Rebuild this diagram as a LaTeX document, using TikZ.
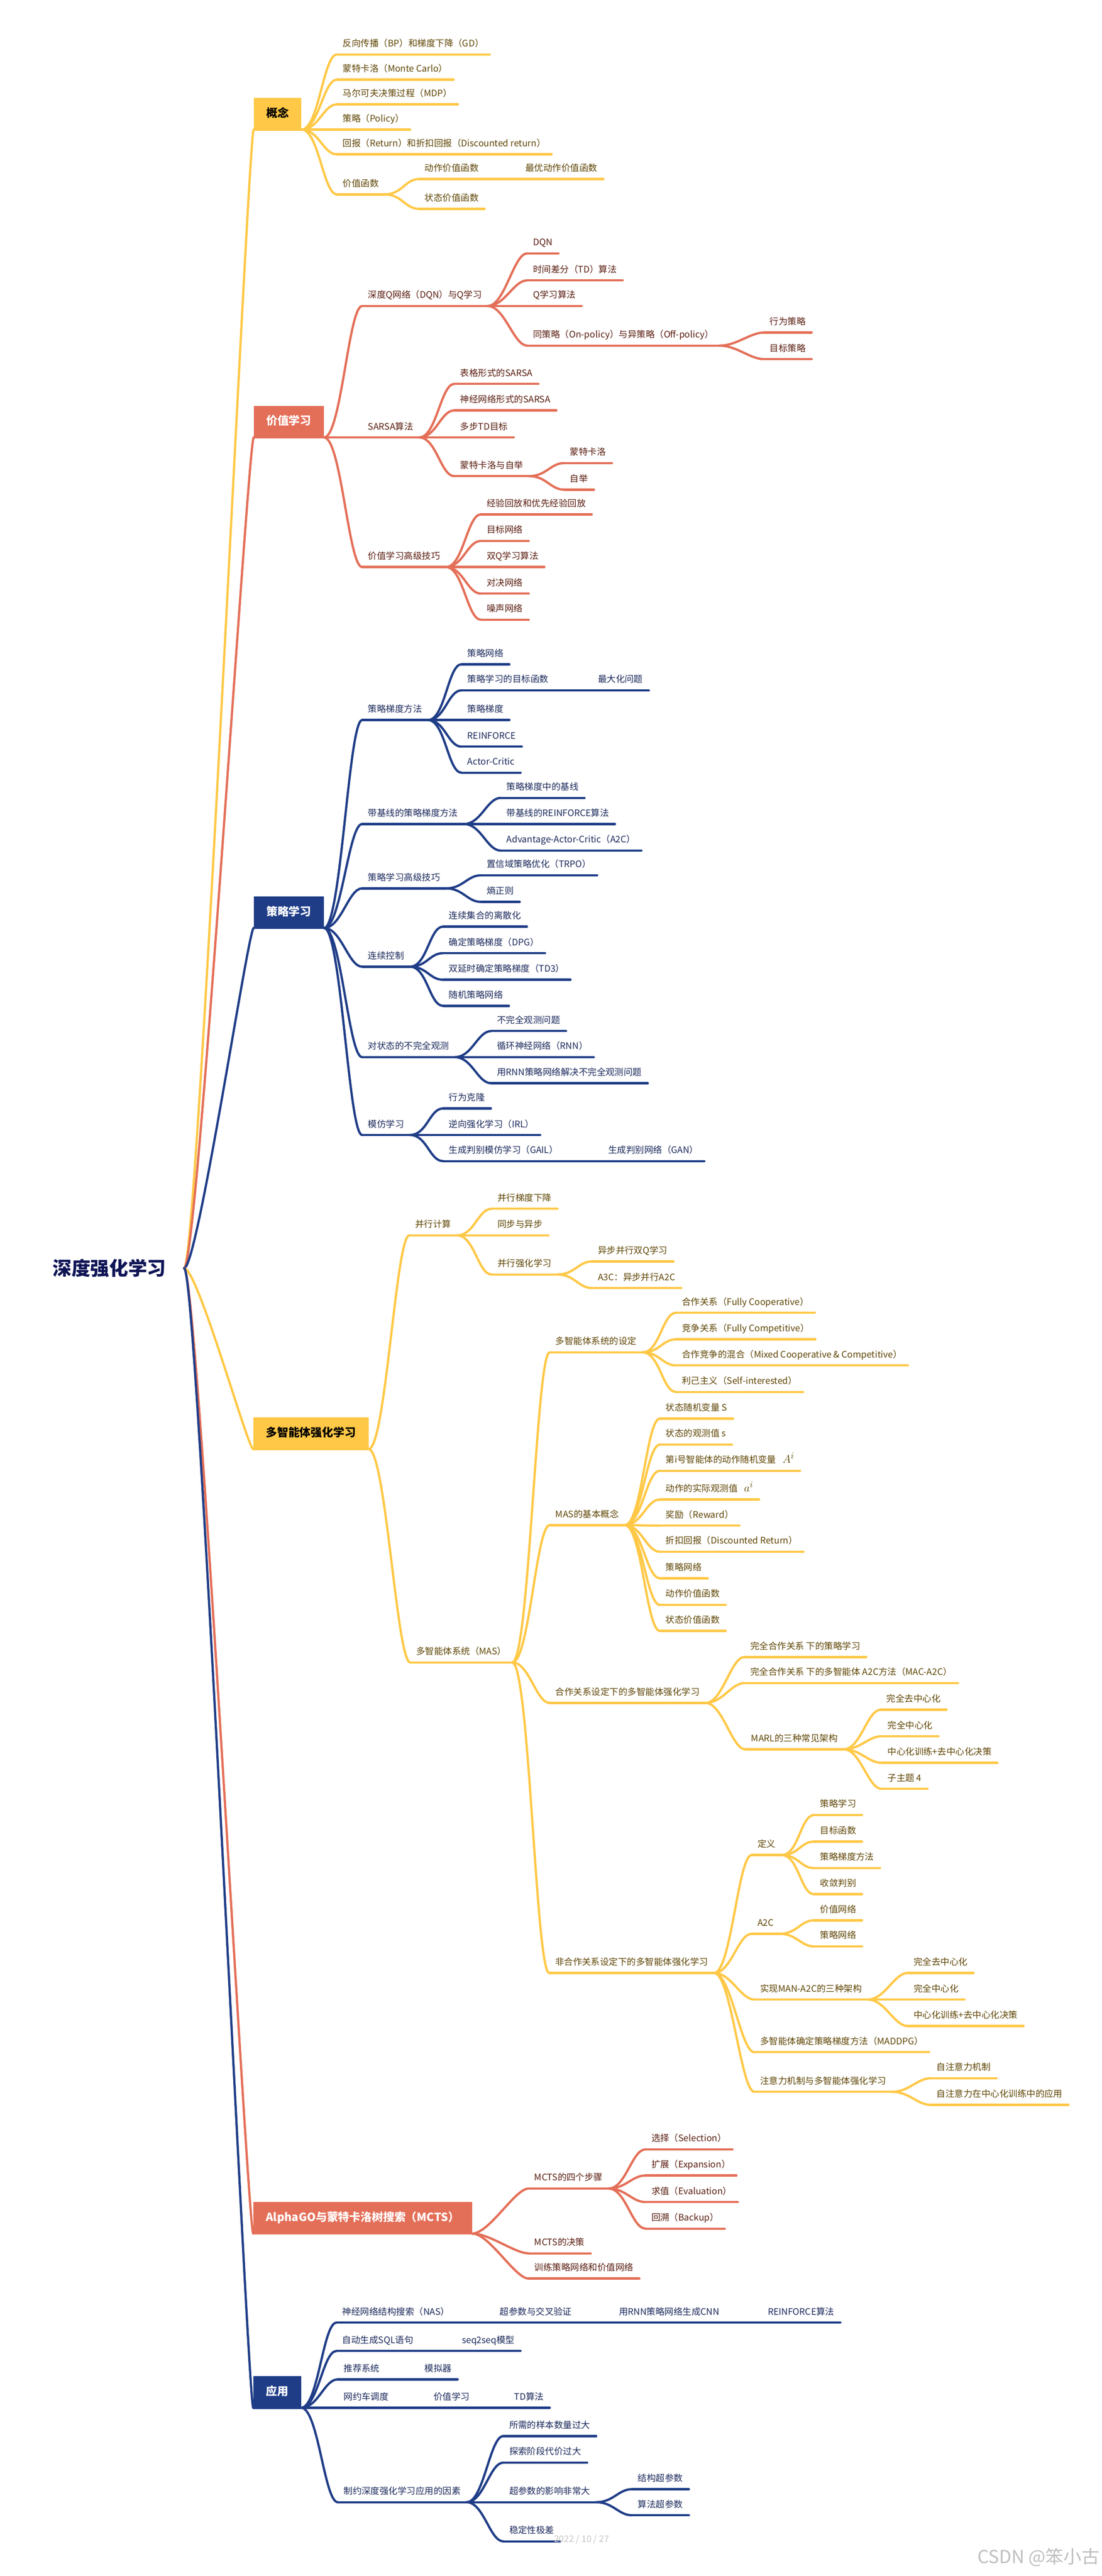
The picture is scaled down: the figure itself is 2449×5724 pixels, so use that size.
\documentclass[tikz,border=0pt]{standalone}
\usepackage{fontspec}
\setmainfont{Noto Sans CJK SC}

\definecolor{yel}{RGB}{255,200,70}
\definecolor{yeltxt}{RGB}{95,70,5}
\definecolor{org}{RGB}{228,111,88}
\definecolor{orgtxt}{RGB}{90,30,18}
\definecolor{nav}{RGB}{31,61,135}
\definecolor{navtxt}{RGB}{28,42,92}
\definecolor{roottxt}{RGB}{15,20,85}

\tikzset{
	topic/.style={anchor=south west, inner xsep=13pt, inner ysep=13pt,
		text height=16pt, text depth=4pt, font=\fontsize{20}{24}\selectfont,
		append after command={(\tikzlastnode.south west) edge (\tikzlastnode.south east)}},
	catbox/.style={anchor=south west, inner xsep=28pt, inner ysep=0pt, minimum height=70pt,
		text height=20pt, text depth=5pt, font=\bfseries\fontsize{25}{30}\selectfont},
	branch/.style={draw=#1, line width=5pt, line cap=round,
		to path={.. controls ([xshift=38pt]\tikztostart) and ([xshift=-30pt]\tikztotarget) .. (\tikztotarget)}},
	rootlink/.style={to path={.. controls ([xshift=30pt]\tikztostart) and ([xshift=-12pt]\tikztotarget) .. (\tikztotarget)}},
}

\begin{document}
\begin{tikzpicture}[x=1pt, y=-1pt]
	\path[fill=white, use as bounding box] (0,0) rectangle (2449,5724);

	\node[font=\bfseries\fontsize{42}{50}\selectfont, text=roottxt, anchor=west, inner xsep=40pt] (root) at (77,2818) {深度强化学习};

	% 概念
	\begin{scope}[every node/.style={topic, text=yeltxt}, every edge/.style={branch=yel}]
		\node[catbox, fill=yel, text=black] (concept) at (564,288) {概念};
		\node (bpgd) at (749,121) {反向传播（BP）和梯度下降（GD）};
		\node (mc) at (749,177) {蒙特卡洛（Monte Carlo）};
		\node (mdp) at (749,232) {马尔可夫决策过程（MDP）};
		\node (policy) at (749,288) {策略（Policy）};
		\node (ret) at (749,343) {回报（Return）和折扣回报（Discounted return）};
		\node (vfun) at (749,432) {价值函数};
		\node (qfun) at (931,398) {动作价值函数};
		\node (qopt) at (1155,398) {最优动作价值函数};
		\node (vsfun) at (931,464) {状态价值函数};

		\path (root.east) edge[rootlink] (concept.south west);
		\path (concept.south east) edge (bpgd.south west);
		\path (concept.south east) edge (mc.south west);
		\path (concept.south east) edge (mdp.south west);
		\path (concept.south east) edge (policy.south west);
		\path (concept.south east) edge (ret.south west);
		\path (concept.south east) edge (vfun.south west);
		\path (vfun.south east) edge (qfun.south west);
		\path (vfun.south east) edge (vsfun.south west);
		\path (qfun.south east) edge (qopt.south west);
	\end{scope}

	% 价值学习
	\begin{scope}[every node/.style={topic, text=orgtxt}, every edge/.style={branch=org}]
		\node[catbox, fill=org, text=white] (valbox) at (564,972) {价值学习};
		\node (dqn) at (805,680) {深度Q网络（DQN）与Q学习};
		\node (dqnalg) at (1172,563) {DQN};
		\node (td) at (1172,623) {时间差分（TD）算法};
		\node (qlearn) at (1172,680) {Q学习算法};
		\node (onoff) at (1172,768) {同策略（On-policy）与异策略（Off-policy）};
		\node (behav) at (1698,739) {行为策略};
		\node (target) at (1698,798) {目标策略};
		\node (sarsa) at (805,972) {SARSA算法};
		\node (sarsatab) at (1010,853) {表格形式的SARSA};
		\node (sarsann) at (1010,912) {神经网络形式的SARSA};
		\node (multitd) at (1010,972) {多步TD目标};
		\node (mcboot) at (1010,1058) {蒙特卡洛与自举};
		\node (mctwo) at (1254,1029) {蒙特卡洛};
		\node (boot) at (1254,1088) {自举};
		\node (valadv) at (805,1260) {价值学习高级技巧};
		\node (replay) at (1069,1143) {经验回放和优先经验回放};
		\node (tnet) at (1069,1202) {目标网络};
		\node (dq) at (1069,1260) {双Q学习算法};
		\node (duel) at (1069,1319) {对决网络};
		\node (noisy) at (1069,1377) {噪声网络};

		\path (root.east) edge[rootlink] (valbox.south west);
		\path (valbox.south east) edge (dqn.south west);
		\path (valbox.south east) edge (sarsa.south west);
		\path (valbox.south east) edge (valadv.south west);
		\path (dqn.south east) edge (dqnalg.south west);
		\path (dqn.south east) edge (td.south west);
		\path (dqn.south east) edge (qlearn.south west);
		\path (dqn.south east) edge (onoff.south west);
		\path (onoff.south east) edge (behav.south west);
		\path (onoff.south east) edge (target.south west);
		\path (sarsa.south east) edge (sarsatab.south west);
		\path (sarsa.south east) edge (sarsann.south west);
		\path (sarsa.south east) edge (multitd.south west);
		\path (sarsa.south east) edge (mcboot.south west);
		\path (mcboot.south east) edge (mctwo.south west);
		\path (mcboot.south east) edge (boot.south west);
		\path (valadv.south east) edge (replay.south west);
		\path (valadv.south east) edge (tnet.south west);
		\path (valadv.south east) edge (dq.south west);
		\path (valadv.south east) edge (duel.south west);
		\path (valadv.south east) edge (noisy.south west);
	\end{scope}

	% 策略学习
	\begin{scope}[every node/.style={topic, text=navtxt}, every edge/.style={branch=nav}]
		\node[catbox, fill=nav, text=white] (polbox) at (564,2062) {策略学习};
		\node (pg) at (805,1600) {策略梯度方法};
		\node (pnet) at (1026,1476) {策略网络};
		\node (pobj) at (1026,1534) {策略学习的目标函数};
		\node (pmax) at (1316,1534) {最大化问题};
		\node (pgrad) at (1026,1600) {策略梯度};
		\node (reinf) at (1026,1659) {REINFORCE};
		\node (ac) at (1026,1717) {Actor-Critic};
		\node (pgb) at (805,1831) {带基线的策略梯度方法};
		\node (base) at (1113,1773) {策略梯度中的基线};
		\node (reinfb) at (1113,1831) {带基线的REINFORCE算法};
		\node (atwoc) at (1113,1890) {Advantage-Actor-Critic（A2C）};
		\node (poladv) at (805,1974) {策略学习高级技巧};
		\node (trpo) at (1069,1945) {置信域策略优化（TRPO）};
		\node (entropy) at (1069,2004) {熵正则};
		\node (cont) at (805,2148) {连续控制};
		\node (discr) at (985,2059) {连续集合的离散化};
		\node (dpg) at (985,2118) {确定策略梯度（DPG）};
		\node (tdthree) at (985,2177) {双延时确定策略梯度（TD3）};
		\node (stoch) at (985,2235) {随机策略网络};
		\node (pomdp) at (805,2349) {对状态的不完全观测};
		\node (pobs) at (1092,2291) {不完全观测问题};
		\node (rnn) at (1092,2349) {循环神经网络（RNN）};
		\node (rnnpol) at (1092,2407) {用RNN策略网络解决不完全观测问题};
		\node (imit) at (805,2522) {模仿学习};
		\node (bc) at (985,2463) {行为克隆};
		\node (irl) at (985,2522) {逆向强化学习（IRL）};
		\node (gail) at (985,2580) {生成判别模仿学习（GAIL）};
		\node (gan) at (1339,2580) {生成判别网络（GAN）};

		\path (root.east) edge[rootlink] (polbox.south west);
		\path (polbox.south east) edge (pg.south west);
		\path (polbox.south east) edge (pgb.south west);
		\path (polbox.south east) edge (poladv.south west);
		\path (polbox.south east) edge (cont.south west);
		\path (polbox.south east) edge (pomdp.south west);
		\path (polbox.south east) edge (imit.south west);
		\path (pg.south east) edge (pnet.south west);
		\path (pg.south east) edge (pobj.south west);
		\path (pg.south east) edge (pgrad.south west);
		\path (pg.south east) edge (reinf.south west);
		\path (pg.south east) edge (ac.south west);
		\path (pobj.south east) edge (pmax.south west);
		\path (pgb.south east) edge (base.south west);
		\path (pgb.south east) edge (reinfb.south west);
		\path (pgb.south east) edge (atwoc.south west);
		\path (poladv.south east) edge (trpo.south west);
		\path (poladv.south east) edge (entropy.south west);
		\path (cont.south east) edge (discr.south west);
		\path (cont.south east) edge (dpg.south west);
		\path (cont.south east) edge (tdthree.south west);
		\path (cont.south east) edge (stoch.south west);
		\path (pomdp.south east) edge (pobs.south west);
		\path (pomdp.south east) edge (rnn.south west);
		\path (pomdp.south east) edge (rnnpol.south west);
		\path (imit.south east) edge (bc.south west);
		\path (imit.south east) edge (irl.south west);
		\path (imit.south east) edge (gail.south west);
		\path (gail.south east) edge (gan.south west);
	\end{scope}

	% 多智能体强化学习
	\begin{scope}[every node/.style={topic, text=yeltxt}, every edge/.style={branch=yel}]
		\node[catbox, fill=yel, text=black] (marlbox) at (563,3220) {多智能体强化学习};
		\node (par) at (910,2745) {并行计算};
		\node (pgd) at (1093,2686) {并行梯度下降};
		\node (sync) at (1093,2745) {同步与异步};
		\node (parrl) at (1093,2832) {并行强化学习};
		\node (adq) at (1316,2803) {异步并行双Q学习};
		\node (athreec) at (1316,2862) {A3C：异步并行A2C};
		\node (mas) at (912,3694) {多智能体系统（MAS）};
		\node (setting) at (1222,3005) {多智能体系统的设定};
		\node (coop) at (1503,2917) {合作关系（Fully Cooperative）};
		\node (comp) at (1503,2976) {竞争关系（Fully Competitive）};
		\node (mixed) at (1503,3034) {合作竞争的混合（Mixed Cooperative \& Competitive）};
		\node (selfi) at (1503,3093) {利己主义（Self-interested）};
		\node (basic) at (1222,3389) {MAS的基本概念};
		\node (bstate) at (1467,3152) {状态随机变量 S};
		\node (bobs) at (1467,3210) {状态的观测值 s};
		\node (bact) at (1467,3268) {第i号智能体的动作随机变量\hspace{14pt}{\fontsize{28}{30}\selectfont$A^i$}};
		\node (bactobs) at (1467,3332) {动作的实际观测值\hspace{14pt}{\fontsize{28}{30}\selectfont$a^i$}};
		\node (brew) at (1467,3390) {奖励（Reward）};
		\node (bret) at (1467,3448) {折扣回报（Discounted Return）};
		\node (bpol) at (1467,3507) {策略网络};
		\node (bq) at (1467,3566) {动作价值函数};
		\node (bv) at (1467,3624) {状态价值函数};
		\node (coopl) at (1222,3784) {合作关系设定下的多智能体强化学习};
		\node (cpol) at (1655,3682) {完全合作关系 下的策略学习};
		\node (mac) at (1655,3740) {完全合作关系 下的多智能体 A2C方法（MAC-A2C）};
		\node (arch) at (1657,3887) {MARL的三种常见架构};
		\node (adec) at (1958,3799) {完全去中心化};
		\node (acen) at (1960,3858) {完全中心化};
		\node (actde) at (1960,3917) {中心化训练+去中心化决策};
		\node (asub) at (1960,3975) {子主题 4};
		\node (ncoop) at (1221,4384) {非合作关系设定下的多智能体强化学习};
		\node (defn) at (1671,4122) {定义};
		\node (dpl) at (1810,4033) {策略学习};
		\node (dobj) at (1810,4092) {目标函数};
		\node (dgrad) at (1810,4151) {策略梯度方法};
		\node (dconv) at (1810,4209) {收敛判别};
		\node (natwoc) at (1671,4297) {A2C};
		\node (nval) at (1810,4267) {价值网络};
		\node (npol) at (1810,4325) {策略网络};
		\node (man) at (1677,4443) {实现MAN-A2C的三种架构};
		\node (mdecen) at (2018,4384) {完全去中心化};
		\node (mcen) at (2018,4443) {完全中心化};
		\node (mctde) at (2018,4502) {中心化训练+去中心化决策};
		\node (maddpg) at (1677,4560) {多智能体确定策略梯度方法（MADDPG）};
		\node (attn) at (1677,4648) {注意力机制与多智能体强化学习};
		\node (selfatt) at (2069,4618) {自注意力机制};
		\node (selfcen) at (2069,4677) {自注意力在中心化训练中的应用};

		\path (root.east) edge[rootlink] (marlbox.south west);
		\path (marlbox.south east) edge (par.south west);
		\path (marlbox.south east) edge (mas.south west);
		\path (par.south east) edge (pgd.south west);
		\path (par.south east) edge (sync.south west);
		\path (par.south east) edge (parrl.south west);
		\path (parrl.south east) edge (adq.south west);
		\path (parrl.south east) edge (athreec.south west);
		\path (mas.south east) edge (setting.south west);
		\path (mas.south east) edge (basic.south west);
		\path (mas.south east) edge (coopl.south west);
		\path (mas.south east) edge (ncoop.south west);
		\path (setting.south east) edge (coop.south west);
		\path (setting.south east) edge (comp.south west);
		\path (setting.south east) edge (mixed.south west);
		\path (setting.south east) edge (selfi.south west);
		\path (basic.south east) edge (bstate.south west);
		\path (basic.south east) edge (bobs.south west);
		\path (basic.south east) edge (bact.south west);
		\path (basic.south east) edge (bactobs.south west);
		\path (basic.south east) edge (brew.south west);
		\path (basic.south east) edge (bret.south west);
		\path (basic.south east) edge (bpol.south west);
		\path (basic.south east) edge (bq.south west);
		\path (basic.south east) edge (bv.south west);
		\path (coopl.south east) edge (cpol.south west);
		\path (coopl.south east) edge (mac.south west);
		\path (coopl.south east) edge (arch.south west);
		\path (arch.south east) edge (adec.south west);
		\path (arch.south east) edge (acen.south west);
		\path (arch.south east) edge (actde.south west);
		\path (arch.south east) edge (asub.south west);
		\path (ncoop.south east) edge (defn.south west);
		\path (ncoop.south east) edge (natwoc.south west);
		\path (ncoop.south east) edge (man.south west);
		\path (ncoop.south east) edge (maddpg.south west);
		\path (ncoop.south east) edge (attn.south west);
		\path (defn.south east) edge (dpl.south west);
		\path (defn.south east) edge (dobj.south west);
		\path (defn.south east) edge (dgrad.south west);
		\path (defn.south east) edge (dconv.south west);
		\path (natwoc.south east) edge (nval.south west);
		\path (natwoc.south east) edge (npol.south west);
		\path (man.south east) edge (mdecen.south west);
		\path (man.south east) edge (mcen.south west);
		\path (man.south east) edge (mctde.south west);
		\path (attn.south east) edge (selfatt.south west);
		\path (attn.south east) edge (selfcen.south west);
	\end{scope}

	% AlphaGO
	\begin{scope}[every node/.style={topic, text=orgtxt}, every edge/.style={branch=org}]
		\node[catbox, fill=org, text=white] (agbox) at (563,4963) {AlphaGO与蒙特卡洛树搜索（MCTS）};
		\node (steps) at (1175,4863) {MCTS的四个步骤};
		\node (sel) at (1435,4776) {选择（Selection）};
		\node (expa) at (1435,4834) {扩展（Expansion）};
		\node (evalu) at (1435,4893) {求值（Evaluation）};
		\node (back) at (1435,4952) {回溯（Backup）};
		\node (mctsdec) at (1175,5007) {MCTS的决策};
		\node (train) at (1175,5063) {训练策略网络和价值网络};

		\path (root.east) edge[rootlink] (agbox.south west);
		\path (agbox.south east) edge (steps.south west);
		\path (agbox.south east) edge (mctsdec.south west);
		\path (agbox.south east) edge (train.south west);
		\path (steps.south east) edge (sel.south west);
		\path (steps.south east) edge (expa.south west);
		\path (steps.south east) edge (evalu.south west);
		\path (steps.south east) edge (back.south west);
	\end{scope}

	% 应用
	\begin{scope}[every node/.style={topic, text=navtxt}, every edge/.style={branch=nav}]
		\node[catbox, fill=nav, text=white] (appbox) at (563,5350) {应用};
		\node (nas) at (748,5161) {神经网络结构搜索（NAS）};
		\node (hyper) at (1098,5161) {超参数与交叉验证};
		\node (rnncnn) at (1363,5161) {用RNN策略网络生成CNN};
		\node (reinfalg) at (1694,5161) {REINFORCE算法};
		\node (sql) at (748,5224) {自动生成SQL语句};
		\node (seq) at (1014,5224) {seq2seq模型};
		\node (rec) at (751,5287) {推荐系统};
		\node (sim) at (931,5287) {模拟器};
		\node (taxi) at (751,5350) {网约车调度};
		\node (tval) at (951,5350) {价值学习};
		\node (tdalg) at (1130,5350) {TD算法};
		\node (limit) at (751,5560) {制约深度强化学习应用的因素};
		\node (sample) at (1119,5413) {所需的样本数量过大};
		\node (explore) at (1119,5472) {探索阶段代价过大};
		\node (hyperbig) at (1119,5560) {超参数的影响非常大};
		\node (shp) at (1405,5531) {结构超参数};
		\node (ahp) at (1405,5589) {算法超参数};
		\node (stable) at (1119,5647) {稳定性极差};

		\path (root.east) edge[rootlink] (appbox.south west);
		\path (appbox.south east) edge (nas.south west);
		\path (appbox.south east) edge (sql.south west);
		\path (appbox.south east) edge (rec.south west);
		\path (appbox.south east) edge (taxi.south west);
		\path (appbox.south east) edge (limit.south west);
		\path (nas.south east) edge (hyper.south west);
		\path (hyper.south east) edge (rnncnn.south west);
		\path (rnncnn.south east) edge (reinfalg.south west);
		\path (sql.south east) edge (seq.south west);
		\path (rec.south east) edge (sim.south west);
		\path (taxi.south east) edge (tval.south west);
		\path (tval.south east) edge (tdalg.south west);
		\path (limit.south east) edge (sample.south west);
		\path (limit.south east) edge (explore.south west);
		\path (limit.south east) edge (hyperbig.south west);
		\path (limit.south east) edge (stable.south west);
		\path (hyperbig.south east) edge (shp.south west);
		\path (hyperbig.south east) edge (ahp.south west);
	\end{scope}

	\node[text=gray!45, font=\fontsize{20}{24}\selectfont] (date) at (1293,5643) {2022 / 10 / 27};
	\node[text=gray!50, font=\fontsize{40}{48}\selectfont, anchor=east, inner sep=0pt] (csdn) at (2445,5682) {CSDN @笨小古};
\end{tikzpicture}
\end{document}
